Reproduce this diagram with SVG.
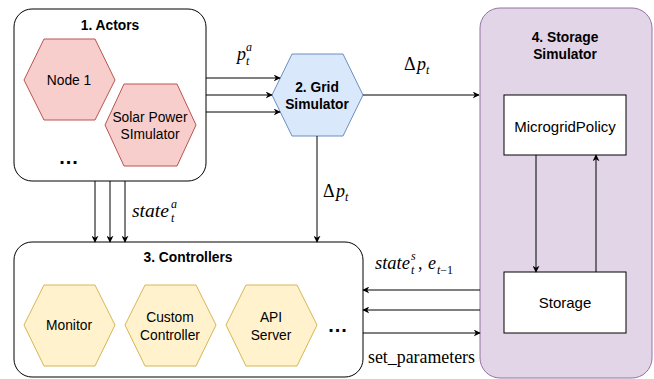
<svg xmlns="http://www.w3.org/2000/svg" width="654" height="379" viewBox="0 0 654 379">
<defs>
<marker id="arr" viewBox="0 0 10 10" refX="9" refY="5" markerWidth="7" markerHeight="7" markerUnits="userSpaceOnUse" orient="auto">
<path d="M0,0 L10,5 L0,10 L3,5 Z" fill="#000"/>
</marker>
<style>
.box{fill:#fff;stroke:#000;stroke-width:1}
.title{font-family:"Liberation Sans",Arial,sans-serif;font-size:13.8px;font-weight:bold;text-anchor:middle;fill:#000}
.lbl{font-family:"Liberation Sans",Arial,sans-serif;font-size:13.8px;text-anchor:middle;fill:#000}
.big{font-size:15px}
.red{fill:#f8cecc;stroke:#b85450}
.blue{fill:#dae8fc;stroke:#6c8ebf}
.yel{fill:#fff2cc;stroke:#d6b656}
.pur{fill:#e1d5e7;stroke:#9673a6}
.wbox{fill:#fff;stroke:#000}
.c line{stroke:#000;stroke-width:1;marker-end:url(#arr)}
.m{font-family:"Liberation Serif","Times New Roman",serif;font-style:italic;font-size:18px;fill:#000}
.mu{font-family:"Liberation Serif","Times New Roman",serif;font-size:18px;fill:#000}
.s{font-size:12px}
.dots{font-family:"Liberation Sans",Arial,sans-serif;font-size:20px;font-weight:bold;fill:#000;text-anchor:middle;letter-spacing:1px}
</style>
</defs>

<g id="actors">
<rect class="box" x="14" y="9" width="192" height="172" rx="18"/>
<text class="title" x="110" y="30">1. Actors</text>
<g id="node1">
<polygon class="red" points="24,80 44,39 95,39 115,80 95,120 44,120"/>
<text class="lbl" x="69" y="85">Node 1</text>
</g>
<g id="solar">
<polygon class="red" points="105,125 124,84 177,84 196,125 177,166 124,166"/>
<text class="lbl" x="150" y="122">Solar Power</text>
<text class="lbl" x="150" y="139">SImulator</text>
</g>
<text class="dots" x="69" y="164">...</text>
</g>

<g id="grid">
<polygon class="blue" points="272,95 292,54 343,54 363,95 343,136 292,136"/>
<text class="title" x="317" y="92">2. Grid</text>
<text class="title" x="317" y="109">Simulator</text>
</g>

<g id="controllers">
<rect class="box" x="14" y="242" width="349" height="135" rx="18"/>
<text class="title" x="188" y="262">3. Controllers</text>
<g id="monitor">
<polygon class="yel" points="24,325 44,285 95,285 115,325 95,366 44,366"/>
<text class="lbl" x="69" y="330">Monitor</text>
</g>
<g id="custom">
<polygon class="yel" points="125,325 145,285 196,285 216,325 196,366 145,366"/>
<text class="lbl" x="170" y="322">Custom</text>
<text class="lbl" x="170" y="340">Controller</text>
</g>
<g id="api">
<polygon class="yel" points="226,325 246,285 297,285 317,325 297,366 246,366"/>
<text class="lbl" x="271" y="322">API</text>
<text class="lbl" x="271" y="340">Server</text>
</g>
<text class="dots" x="338" y="332">...</text>
</g>

<g id="storage-sim">
<rect class="pur" x="480" y="8" width="172" height="370" rx="20"/>
<text class="title" x="565" y="42">4. Storage</text>
<text class="title" x="565" y="59">Simulator</text>
<g id="policy">
<rect class="wbox" x="504" y="95" width="122" height="60"/>
<text class="lbl big" x="565" y="132">MicrogridPolicy</text>
</g>
<g id="storage">
<rect class="wbox" x="504" y="272" width="122" height="61"/>
<text class="lbl big" x="565" y="308">Storage</text>
</g>
</g>

<g id="connectors" class="c">
<line x1="206" y1="78" x2="280" y2="78"/>
<line x1="206" y1="95" x2="272" y2="95"/>
<line x1="206" y1="112" x2="280" y2="112"/>
<line x1="363" y1="95" x2="479" y2="95"/>
<line x1="317" y1="136" x2="317" y2="242"/>
<line x1="95" y1="181" x2="95" y2="242"/>
<line x1="110" y1="181" x2="110" y2="242"/>
<line x1="125" y1="181" x2="125" y2="242"/>
<line x1="480" y1="290" x2="363" y2="290"/>
<line x1="480" y1="310" x2="363" y2="310"/>
<line x1="363" y1="333" x2="480" y2="333"/>
<line x1="536" y1="155" x2="536" y2="272"/>
<line x1="596" y1="272" x2="596" y2="155"/>
</g>

<g id="labels">
<text class="m" x="237" y="60">p</text>
<text class="m s" x="246" y="51">a</text>
<text class="m s" x="246" y="65">t</text>

<text class="mu" x="404" y="70">Δ</text>
<text class="m" x="417" y="70">p</text>
<text class="m s" x="426" y="74">t</text>

<text class="mu" x="323" y="197">Δ</text>
<text class="m" x="336" y="197">p</text>
<text class="m s" x="345" y="201">t</text>

<text class="m" x="132" y="217" textLength="37" lengthAdjust="spacingAndGlyphs">state</text>
<text class="m s" x="171" y="208">a</text>
<text class="m s" x="171" y="222">t</text>

<text class="m" x="375" y="269" textLength="35" lengthAdjust="spacingAndGlyphs">state</text>
<text class="m s" x="411" y="260">s</text>
<text class="m s" x="411" y="274">t</text>
<text class="mu" x="418" y="269">,</text>
<text class="m" x="428" y="269">e</text>
<text class="m s" x="437" y="274" font-size="13">t<tspan font-style="normal">−1</tspan></text>

<text class="mu" x="368" y="363" font-size="15" textLength="107" lengthAdjust="spacingAndGlyphs">set_parameters</text>
</g>
</svg>
